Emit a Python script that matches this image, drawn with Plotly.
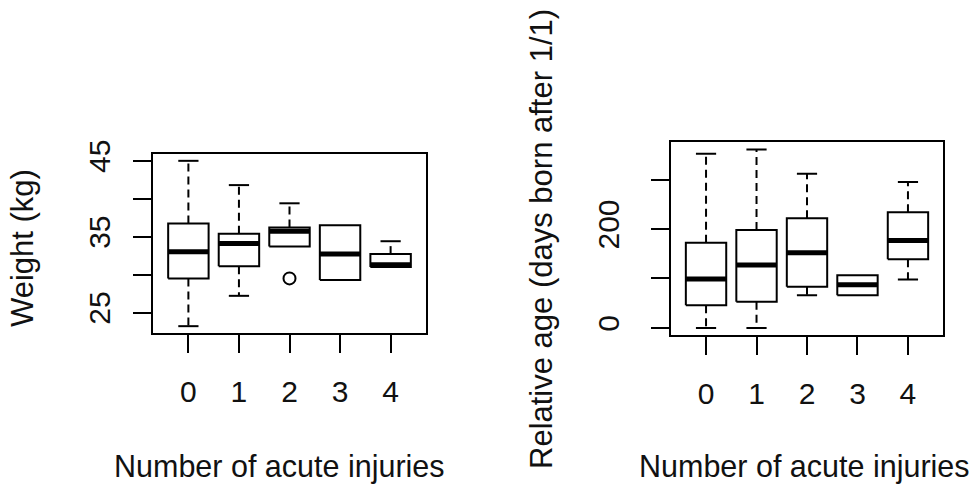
import plotly.graph_objects as go

# ---- data ----
groups = [0, 1, 2, 3, 4]
group_labels = ["0", "1", "2", "3", "4"]

w_upper = [45.0, 41.8, 39.4, 36.5, 34.4]
w_q3 = [36.75, 35.4, 36.2, 36.5, 32.7]
w_median = [33.0, 34.1, 35.7, 32.7, 31.3]
w_q1 = [29.5, 31.1, 33.7, 29.3, 31.0]
w_lower = [23.2, 27.2, 33.7, 29.3, 31.0]
w_outlier_x = [2]
w_outlier_y = [29.5]

a_upper = [352, 361, 312, 106.5, 295]
a_q3 = [172, 198, 222, 106.5, 234]
a_median = [99, 127, 152, 87, 177]
a_q1 = [46, 53, 83, 66, 139]
a_lower = [0, 0, 66, 66, 98]

w_tickvals = [25, 30, 35, 40, 45]
w_ticktext = ["25", "", "35", "", "45"]
a_tickvals = [0, 100, 200, 300]
a_ticktext = ["0", "", "200", ""]

BOXW = 0.4   # half box width
CAPW = 0.2   # half staple width
FONT = "Liberation Sans, Arial, sans-serif"

fig = go.Figure()


def add_boxplot(xa, ya, lower, q1, med, q3, upper):
    bx, by, wx, wy, cx, cy, mx, my = [], [], [], [], [], [], [], []
    for g, lo, a, m, b, hi in zip(groups, lower, q1, med, q3, upper):
        bx += [g - BOXW, g + BOXW, g + BOXW, g - BOXW, g - BOXW, None]
        by += [a, a, b, b, a, None]
        if hi > b:
            wx += [g, g, None]
            wy += [b, hi, None]
            cx += [g - CAPW, g + CAPW, None]
            cy += [hi, hi, None]
        if lo < a:
            wx += [g, g, None]
            wy += [a, lo, None]
            cx += [g - CAPW, g + CAPW, None]
            cy += [lo, lo, None]
        mx += [g - BOXW, g + BOXW, None]
        my += [m, m, None]
    common = dict(mode="lines", xaxis=xa, yaxis=ya, showlegend=False, hoverinfo="skip")
    fig.add_trace(go.Scatter(x=wx, y=wy, line=dict(color="black", width=2, dash="8px,5px"), **common))
    fig.add_trace(go.Scatter(x=cx, y=cy, line=dict(color="black", width=2), **common))
    fig.add_trace(go.Scatter(x=bx, y=by, line=dict(color="black", width=2), **common))
    fig.add_trace(go.Scatter(x=mx, y=my, line=dict(color="black", width=5), **common))


add_boxplot("x", "y", w_lower, w_q1, w_median, w_q3, w_upper)
fig.add_trace(go.Scatter(x=w_outlier_x, y=w_outlier_y, mode="markers", xaxis="x", yaxis="y",
                         marker=dict(symbol="circle-open", size=12, color="black", line=dict(width=2)),
                         showlegend=False, hoverinfo="skip"))
add_boxplot("x2", "y2", a_lower, a_q1, a_median, a_q3, a_upper)

W, H = 975, 488

axis_common = dict(showline=True, mirror=True, linewidth=2, linecolor="black",
                   ticks="outside", ticklen=18, tickwidth=2, tickcolor="black",
                   showgrid=False, zeroline=False, automargin=False,
                   tickfont=dict(family=FONT, size=30, color="#111"))

fig.update_layout(
    width=W, height=H,
    margin=dict(l=0, r=0, t=0, b=0, pad=0),
    paper_bgcolor="white", plot_bgcolor="white",
    xaxis=dict(domain=[153 / W, 426 / W], range=[-0.7, 4.7], tickvals=groups, ticktext=group_labels,
               anchor="y", ticklabelstandoff=13, **axis_common),
    yaxis=dict(domain=[(H - 333) / H, (H - 154) / H], range=[22.3, 45.9], tickvals=w_tickvals,
               ticktext=w_ticktext, tickangle=-90, anchor="x", ticklabelstandoff=11, **axis_common),
    xaxis2=dict(domain=[670.7 / W, 943.3 / W], range=[-0.7, 4.7], tickvals=groups, ticktext=group_labels,
                anchor="y2", ticklabelstandoff=13, **axis_common),
    yaxis2=dict(domain=[(H - 335) / H, (H - 142.3) / H], range=[-14.4, 375.4], tickvals=a_tickvals,
                ticktext=a_ticktext, tickangle=-90, anchor="x2", ticklabelstandoff=20, **axis_common),
    annotations=[
        dict(text="Weight (kg)", x=22 / W, y=(H - 248) / H, xref="paper", yref="paper",
             textangle=-90, showarrow=False, xanchor="center", yanchor="middle",
             font=dict(family=FONT, size=31, color="#111")),
        dict(text="Number of acute injuries", x=279 / W, y=(H - 466) / H, xref="paper", yref="paper",
             showarrow=False, xanchor="center", yanchor="middle",
             font=dict(family=FONT, size=30.5, color="#111")),
        dict(text="Relative age (days born after 1/1)", x=541 / W, y=(H - 239) / H, xref="paper",
             yref="paper", textangle=-90, showarrow=False, xanchor="center", yanchor="middle",
             font=dict(family=FONT, size=31, color="#111")),
        dict(text="Number of acute injuries", x=804 / W, y=(H - 466) / H, xref="paper", yref="paper",
             showarrow=False, xanchor="center", yanchor="middle",
             font=dict(family=FONT, size=30.5, color="#111")),
    ],
)

fig.write_html(
    "out.html",
    config={"displayModeBar": False},
    post_script="document.body.style.margin='0px';document.body.style.padding='0px';"
                "document.documentElement.style.overflow='hidden';",
)
